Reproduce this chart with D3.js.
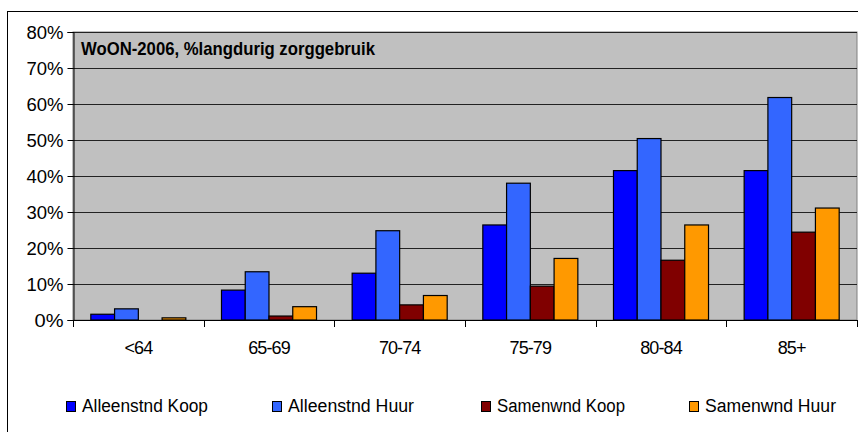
<!DOCTYPE html>
<html><head><meta charset="utf-8">
<script src="https://cdn.jsdelivr.net/npm/d3@7"></script>
<style>
html,body{margin:0;padding:0;background:#fff;}
svg{display:block;font-family:"Liberation Sans",Arial,sans-serif;}
</style></head>
<body><svg id="c" width="858" height="432"></svg>
<script>
const categories = ["<64","65-69","70-74","75-79","80-84","85+"];
const seriesNames = ["Alleenstnd Koop","Alleenstnd Huur","Samenwnd Koop","Samenwnd Huur"];
const alleenstndKoop = [1.6, 8.3, 13.0, 26.4, 41.5, 41.5];
const alleenstndHuur = [3.1, 13.4, 24.8, 38.0, 50.4, 61.8];
const samenwndKoop   = [0.0, 1.1, 4.2, 9.4, 16.6, 24.4];
const samenwndHuur   = [0.6, 3.7, 6.8, 17.1, 26.4, 31.1];
const yTicks = [0,10,20,30,40,50,60,70,80];
const title = "WoON-2006, %langdurig zorggebruik";
const colors = ["#0000FF","#3366FF","#800000","#FF9900"];
const seriesValues = [alleenstndKoop, alleenstndHuur, samenwndKoop, samenwndHuur];

const svg = d3.select("#c");
// outer chart border
svg.append("rect").attr("x",7.5).attr("y",11.5).attr("width",900).attr("height",500)
  .attr("fill","#fff").attr("stroke","#000").attr("stroke-width",1);

const L=73, R=857, T=32, B=320;
const x0 = d3.scaleBand().domain(categories).range([L,R]).paddingInner(0).paddingOuter(0);
const gapFrac = 1.5/5.5;
const x1 = d3.scaleBand().domain(seriesNames)
  .range([x0.bandwidth()*gapFrac/2, x0.bandwidth()*(1-gapFrac/2)]);
const y = d3.scaleLinear().domain([0,80]).range([B,T]);

// plot area
svg.append("rect").attr("x",L).attr("y",T).attr("width",R-L).attr("height",B-T)
  .attr("fill","#C0C0C0").attr("stroke","#808080").attr("stroke-width",1);

// gridlines
svg.append("g").selectAll("line").data(yTicks.filter(d=>d>0)).join("line")
  .attr("x1",L).attr("x2",R).attr("y1",d=>Math.round(y(d))+0.5).attr("y2",d=>Math.round(y(d))+0.5)
  .attr("stroke","#222").attr("stroke-width",1);

// title
svg.append("text").attr("x",81).attr("y",55).attr("font-weight","bold").attr("font-size","18.5px")
  .attr("textLength",294).attr("lengthAdjust","spacingAndGlyphs").attr("fill","#000").text(title);

// bars
const g = svg.append("g");
categories.forEach((c,i)=>{
  seriesNames.forEach((s,j)=>{
    const v = seriesValues[j][i];
    g.append("rect")
      .attr("x", x0(c)+x1(s))
      .attr("y", y(v))
      .attr("width", x1.bandwidth())
      .attr("height", Math.max(0, y(0)-y(v)))
      .attr("fill", colors[j]).attr("stroke","#000").attr("stroke-width",1.2);
  });
});

// y axis
const yAxis = d3.axisLeft(y).tickValues(yTicks).tickFormat(d=>d+"%").tickSize(6).tickPadding(4);
const ya = svg.append("g").attr("transform",`translate(${L+0.5},0)`).call(yAxis);
ya.select(".domain").attr("stroke","#000");
ya.selectAll(".tick line").attr("stroke","#000");
ya.selectAll(".tick text").attr("font-size","18px").attr("fill","#000")
  .attr("font-family","Liberation Sans, Arial, sans-serif")
  .attr("textLength",d=> d===0 ? 29 : 37).attr("lengthAdjust","spacingAndGlyphs")
  .attr("dy","0.36em");

// x axis
const xAxis = d3.axisBottom(x0).tickSize(0).tickPadding(0).tickFormat(()=>"");
const xa = svg.append("g").attr("transform",`translate(0,${B+0.5})`).call(xAxis);
xa.select(".domain").attr("stroke","#000").attr("d",`M${L},0H${R}`);
// tick marks at category boundaries
const bounds = categories.map(c=>x0(c)).concat([R]);
svg.append("g").selectAll("line").data(bounds).join("line")
  .attr("x1",d=>Math.round(d)+0.5).attr("x2",d=>Math.round(d)+0.5)
  .attr("y1",B).attr("y2",B+7).attr("stroke","#000");
svg.append("g").selectAll("text").data(categories).join("text")
  .attr("x",d=>x0(d)+x0.bandwidth()/2).attr("y",354)
  .attr("text-anchor","middle").attr("font-size","18px").attr("fill","#000")
  .attr("letter-spacing","-0.9px")
  .text(d=>d);

// legend
const legX = [66, 272, 481, 689];
const legW = [126, 126, 128, 131];
const lg = svg.append("g");
seriesNames.forEach((s,j)=>{
  lg.append("rect").attr("x",legX[j]+0.5).attr("y",401.5).attr("width",9).attr("height",10)
    .attr("fill",colors[j]).attr("stroke","#000").attr("stroke-width",1);
  lg.append("text").attr("x",legX[j]+16).attr("y",412).attr("font-size","18px").attr("fill","#000")
    .attr("textLength",legW[j]).attr("lengthAdjust","spacingAndGlyphs").text(s);
});
</script></body></html>
